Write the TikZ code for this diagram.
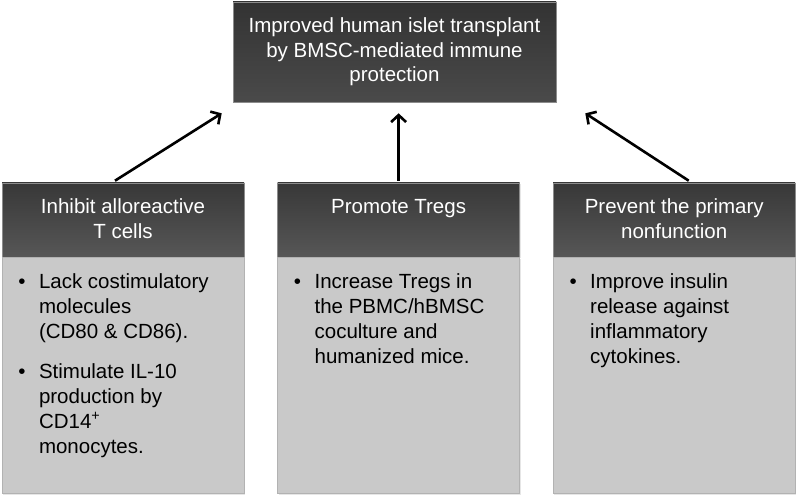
\documentclass[tikz,border=0pt]{standalone}
\usepackage{fontspec}
\setmainfont{Liberation Sans}
\usepackage{enumitem}
\setlist[itemize]{label=\textbullet,leftmargin=37pt,labelsep=13.5pt,topsep=0pt,partopsep=0pt,parsep=0pt,itemsep=15pt}
\usetikzlibrary{positioning,arrows.meta,shadows}
\tikzset{
  % dark boxes: the aim on top and the three headings
  aim node/.style={rectangle,draw=black!45,line width=.6pt,top color=black!80,bottom color=black!71,
    text=white,minimum width=323pt,minimum height=100pt,inner sep=0,
    drop shadow={opacity=.2,shadow xshift=1pt,shadow yshift=-1.5pt}},
  head node/.style={rectangle,draw=black!45,line width=.6pt,top color=black!78,bottom color=black!66,
    text=white,minimum width=242pt,minimum height=74pt,inner sep=0,
    drop shadow={opacity=.2,shadow xshift=1pt,shadow yshift=-1.5pt}},
  % light boxes with the bullet lists
  list node/.style={rectangle,draw=black!30,line width=.6pt,fill=black!21,
    minimum width=242pt,minimum height=236pt,inner sep=0,
    drop shadow={opacity=.2,shadow xshift=1pt,shadow yshift=-1.5pt}},
  up arrow/.style={line width=2.6pt,-{Straight Barb[length=7pt,width=15pt]}}
}

\begin{document}
\begin{tikzpicture}[x=1pt,y=-1pt,font=\fontsize{20.5}{25}\selectfont]
  \useasboundingbox (0,0) rectangle (798,497);
  % The aim
  \node(aim)[aim node,font=\fontsize{20.5}{24.5}\selectfont] at (394.5,52)
    {\parbox[c][100pt][t]{323pt}{\centering\vspace*{16pt}Improved human islet transplant\\by BMSC-mediated immune\\protection}};
  % The three headings
  \node(inhibit)[head node] at (123,220)
    {\parbox[c][74pt][t]{242pt}{\centering\vspace*{16pt}Inhibit alloreactive\\T cells}};
  \node(promote)[head node,right=33pt of inhibit]
    {\parbox[c][74pt][t]{242pt}{\centering\vspace*{16pt}Promote Tregs}};
  \node(prevent)[head node,right=33pt of promote]
    {\parbox[c][74pt][t]{242pt}{\centering\vspace*{16pt}Prevent the primary\\nonfunction}};
  % The lists under them
  \node(inhibit list)[list node,below=0pt of inhibit]
    {\parbox[c][236pt][t]{242pt}{\vspace*{16pt}\raggedright
      \begin{itemize}
        \item Lack costimulatory\\molecules\\(CD80 \& CD86).
        \item Stimulate IL-10\\production by\\CD14\textsuperscript{+}\\monocytes.
      \end{itemize}}};
  \node(promote list)[list node,below=0pt of promote]
    {\parbox[c][236pt][t]{242pt}{\vspace*{16pt}\raggedright
      \begin{itemize}
        \item Increase Tregs in\\the PBMC/hBMSC\\coculture and\\humanized mice.
      \end{itemize}}};
  \node(prevent list)[list node,below=0pt of prevent]
    {\parbox[c][236pt][t]{242pt}{\vspace*{16pt}\raggedright
      \begin{itemize}
        \item Improve insulin\\release against\\inflammatory\\cytokines.
      \end{itemize}}};
  % arrows up to the aim
  \draw[up arrow]([xshift=-8pt,yshift=2pt]inhibit.north) -- ([xshift=-11pt,yshift=-11pt]aim.south west);
  \draw[up arrow]([yshift=2pt]promote.north) -- ([yshift=-11pt]promote.north |- aim.south);
  \draw[up arrow]([xshift=14.5pt,yshift=2pt]prevent.north) -- ([xshift=29pt,yshift=-11pt]aim.south east);
\end{tikzpicture}
\end{document}
